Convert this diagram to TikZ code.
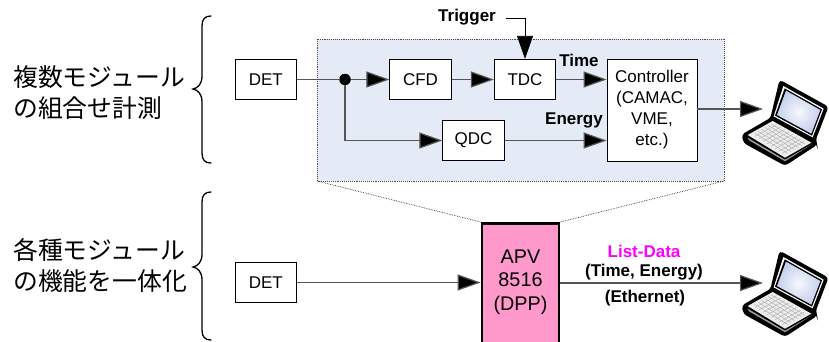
\documentclass[tikz,border=0pt]{standalone}
\usepackage{fontspec}
\setmainfont{Liberation Sans}
\newfontfamily\jpfont{Noto Sans CJK JP}
\usetikzlibrary{arrows.meta,calc}
\definecolor{panelblue}{RGB}{228,234,246}
\definecolor{apvpink}{RGB}{255,153,204}
\definecolor{wire}{RGB}{85,85,85}
\definecolor{lapscreen}{RGB}{196,208,236}
\definecolor{listmag}{RGB}{255,0,255}
\tikzset{
  x=1pt,y=-1pt,
  mod/.style={draw=black,fill=white,line width=0.8pt,minimum width=61.5pt,minimum height=40.5pt,inner sep=0pt,font=\fontsize{17}{21}\selectfont,align=center},
  wire/.style={draw=wire,line width=1.2pt},
  flow/.style={wire,-{Triangle[length=23pt,width=16pt,fill=black]}},
  lab/.style={font=\fontsize{17}{19}\bfseries\selectfont,inner sep=0pt},
  jp/.style={font=\jpfont\fontsize{24.8}{31}\selectfont,align=left,anchor=west,inner sep=0pt},
  brace/.style={draw=black,line width=1.3pt,line cap=round},
  guide/.style={draw=black!80,line width=0.7pt,densely dotted}
}
\newcommand{\laptop}[2]{%
\begin{scope}[shift={(#1,#2)},scale=0.33333]
  \path[fill=black,draw=black,line width=1.4pt,rounded corners=3pt] (135,17) -- (278,96) -- (240,195) -- (245,208) -- (150,270) -- (28,203) -- (22,180) -- (108,130) -- cycle;
  \fill[white] (145,33) -- (266,101) -- (233,187) -- (116,124) -- cycle;
  \fill[black] (149,40) -- (261,103) -- (231,182) -- (120,122) -- cycle;
  \shade[inner color=white!85!lapscreen,outer color=lapscreen] (153,47) -- (256,105) -- (229,176) -- (126,120) -- cycle;
  \fill[black!7] (38,180) -- (113,138) -- (229,203) -- (150,248) -- cycle;
  \fill[black!40] (38,188) -- (150,254) -- (230,208) -- (150,259) -- (42,196) -- cycle;
  \foreach \t in {0.12,0.28,0.44,0.6,0.76,0.9}{
    \draw[black!32,line width=0.45pt] ($(50,178)!\t!(115,143)$) -- ($(150,240)!\t!(215,203)$);
  }
  \foreach \t in {0.1,0.22,0.34,0.46,0.58,0.7,0.82,0.92}{
    \draw[black!32,line width=0.45pt] ($(50,178)!\t!(150,240)$) -- ($(115,143)!\t!(215,203)$);
  }
\end{scope}}
\begin{document}
\begin{tikzpicture}
\useasboundingbox (0,0) rectangle (829,342);
\fill[white] (0,0) rectangle (829,342);
% panel
\path[draw=black!70,densely dotted,line width=0.9pt,fill=panelblue] (317,39) rectangle (724,181);
\coordinate (pbl) at (317,181);
\coordinate (pbr) at (724,181);
% japanese
\node[jp] (t1) at (13,92.5) {複数モジュール\\の組合せ計測};
\node[jp] (t2) at (13,265.5) {各種モジュール\\の機能を一体化};
% braces
\draw[brace] (211,16) .. controls (205,16) and (202,19) .. (202,26) -- (202,76) .. controls (202,84) and (198,88) .. (193,89) .. controls (198,90) and (202,94) .. (202,102) -- (202,153) .. controls (202,160) and (205,163) .. (211,163);
\draw[brace] (211,192) .. controls (205,192) and (202,195) .. (202,202) -- (202,254) .. controls (202,262) and (198,266) .. (193,267) .. controls (198,268) and (202,272) .. (202,280) -- (202,330) .. controls (202,337) and (205,340) .. (211,340);
% modules
\node[mod] (det1) at (265.75,79.5) {DET};
\node[mod] (cfd) at (420.5,79.5) {CFD};
\node[mod] (tdc) at (525,79.5) {TDC};
\node[mod] (qdc) at (473.5,140.5) {QDC};
\node[mod,minimum width=90pt,minimum height=102pt] (ctl) at (652,110) {Controller\\(CAMAC,\\VME,\\etc.)};
\node[mod] (det2) at (265.75,282.5) {DET};
\node[draw=black,line width=2.8pt,fill=apvpink,minimum width=77pt,minimum height=140pt,inner sep=0pt,anchor=north] (apv) at (520.5,222) {};
\node[font=\fontsize{19.8}{23.5}\selectfont,align=center,inner sep=0pt] (apvt) at (520.5,282) {APV\\8516\\(DPP)};
\draw[guide] (pbl) -- (apv.north west);
\draw[guide] (pbr) -- (apv.north east);
% junction
\node[circle,fill=black,minimum size=11.5pt,inner sep=0pt] (dot) at (345,79.5) {};
\coordinate (trg) at (506,18);
\coordinate (corner) at (525,18);
\coordinate (qcorner) at (345,140.5);
\coordinate (lap1) at (763,109);
\coordinate (lap2) at (763,283);
% wires
\draw[wire] (det1) -- (dot);
\draw[flow] (dot) -- (cfd);
\draw[flow] (cfd) -- (tdc);
\draw[flow] (tdc) -- (tdc.east -| ctl.west);
\draw[wire] (dot) -- (qcorner);
\draw[flow] (qcorner) -- (qdc);
\draw[flow] (qdc) -- (qdc.east -| ctl.west);
\draw[wire,draw=black,line width=0.9pt] (trg) -- (corner);
\draw[flow,draw=black,line width=0.9pt] (corner) -- (tdc.north);
\draw[flow] (ctl.east |- lap1) -- (lap1);
\draw[flow] (det2) -- (apv.west |- det2);
\draw[flow] (apv.east |- lap2) -- (lap2);
% labels
\node[lab] (ltr) at (467,17) {Trigger};
\node[lab] (ltm) at (579,60) {Time};
\node[lab] (len) at (574,120) {Energy};
\node[lab,text=listmag] (lld) at (644,251) {List-Data};
\node[lab] (lte) at (644,272.5) {(Time, Energy)};
\node[lab] (let) at (645,298) {(Ethernet)};
% laptops
\laptop{735}{75}
\laptop{735}{246}
\end{tikzpicture}
\end{document}
